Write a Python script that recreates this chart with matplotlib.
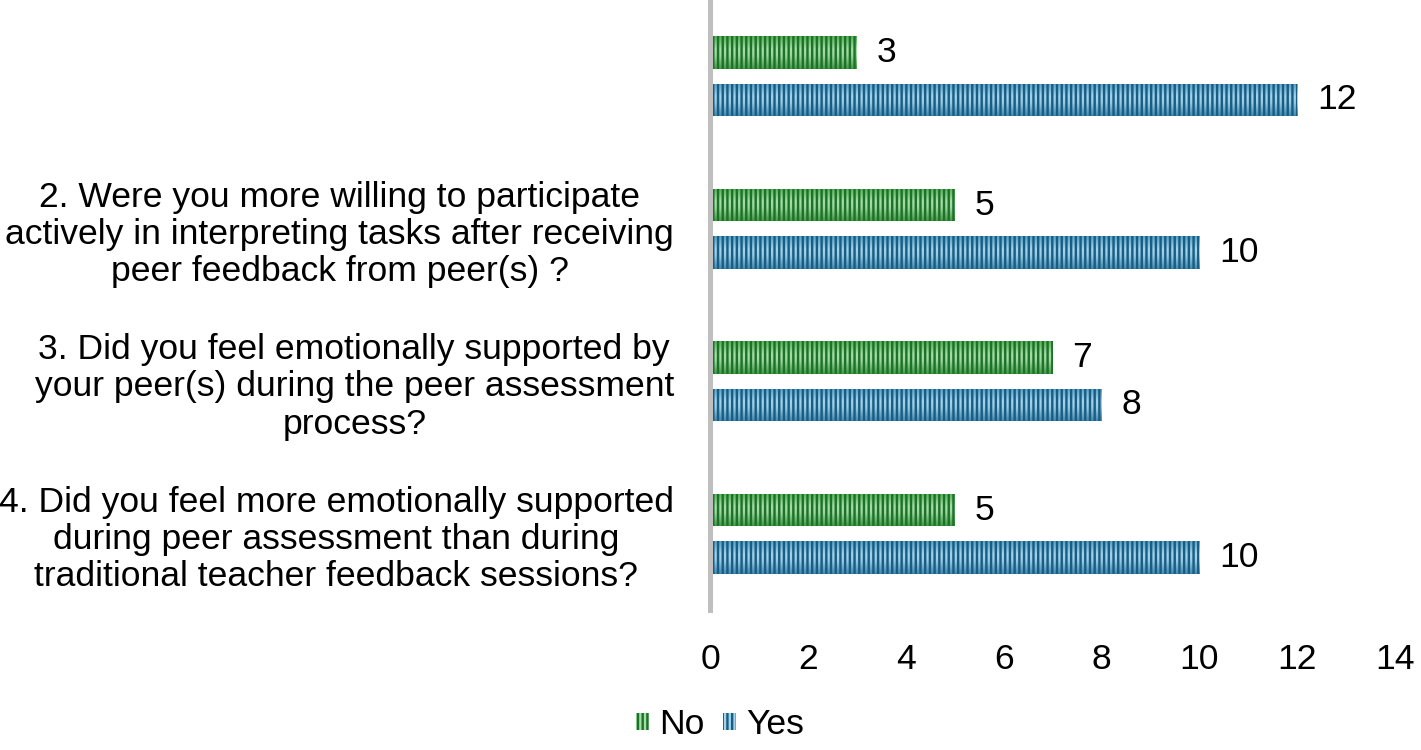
import matplotlib
matplotlib.use("Agg")
import matplotlib.pyplot as plt
from matplotlib.colors import LinearSegmentedColormap
from matplotlib.patches import Patch
import numpy as np

DPI = 113
S = 72.0 / DPI  # points per pixel

plt.rcParams['font.family'] = ['Liberation Sans', 'DejaVu Sans']
plt.rcParams['hatch.linewidth'] = 2.4 * S

categories = [
    "",
    "2. Were you more willing to participate\nactively in interpreting tasks after receiving\npeer feedback from peer(s) ?",
    "3. Did you feel emotionally supported by\nyour peer(s) during the peer assessment\nprocess?",
    "4. Did you feel more emotionally supported\nduring peer assessment than during\ntraditional teacher feedback sessions?",
]
no_values = [3, 5, 7, 5]
yes_values = [12, 10, 8, 10]
xticks = [0, 2, 4, 6, 8, 10, 12, 14]
series_names = ["No", "Yes"]

W, H = 1421, 750
fig = plt.figure(figsize=(W / DPI, H / DPI), dpi=DPI)
ax = fig.add_axes([710/W, 1 - 610/H, (1395-710)/W, 610/H])

y = np.arange(len(categories))
off = 0.155
h = 0.213
fs = 35.5 * S

styles = {
    "No": dict(dark='#1B7229', grad=['#58B058', '#A8DDA8', '#9ED69E', '#469A46']),
    "Yes": dict(dark='#165E85', grad=['#5CA0C5', '#A6D3EA', '#9ACAE2', '#4689AF']),
}

ax.set_ylim(len(categories) - 0.5, -0.5)
ax.set_xlim(0, 14)

grad = np.linspace(0, 1, 64).reshape(-1, 1)
containers = []
for name, vals, dy in ((series_names[0], no_values, -off), (series_names[1], yes_values, off)):
    st = styles[name]
    cmap = LinearSegmentedColormap.from_list(name, list(zip([0, 0.4, 0.6, 1.0], st['grad'])))
    bars = ax.barh(y + dy, vals, height=h, facecolor='none', edgecolor=st['dark'],
                   linewidth=0, hatch='||||', label=name, zorder=3)
    for p in bars:
        x0, y0 = p.get_x(), p.get_y()
        im = ax.imshow(grad, cmap=cmap, aspect='auto', interpolation='bilinear',
                       extent=(x0, x0 + p.get_width(), y0 + p.get_height(), y0), zorder=2)
        im.set_clip_path(p)
    containers.append(bars)

ax.set_ylim(len(categories) - 0.5, -0.5)
ax.set_xlim(0, 14)

for bars in containers:
    ax.bar_label(bars, padding=20 * S, fontsize=fs, color='black')

ax.set_xticks(xticks)
ax.set_xticklabels([str(t) for t in xticks], fontsize=fs)
ax.set_yticks(y)
ax.set_yticklabels(categories, fontsize=fs, multialignment='center', linespacing=1.17)
ax.tick_params(axis='x', length=0, pad=33 * S)
ax.tick_params(axis='y', length=0, pad=36 * S)

for s in ['top', 'right', 'bottom']:
    ax.spines[s].set_visible(False)
ax.spines['left'].set_color('#BFBFBF')
ax.spines['left'].set_linewidth(5 * S)
ax.spines['left'].set_zorder(4)

handles = [Patch(facecolor=styles[n]['grad'][1], edgecolor=styles[n]['dark'], linewidth=0,
                 hatch='||||') for n in series_names]
fig.legend(handles=handles, labels=series_names, loc='center',
           bbox_to_anchor=(720/W, 1 - 725/H), ncol=2, frameon=False,
           fontsize=fs, handlelength=0.37, handleheight=0.37, handletextpad=0.3,
           columnspacing=0.5, borderpad=0)

fig.savefig("out.png", dpi=DPI)
